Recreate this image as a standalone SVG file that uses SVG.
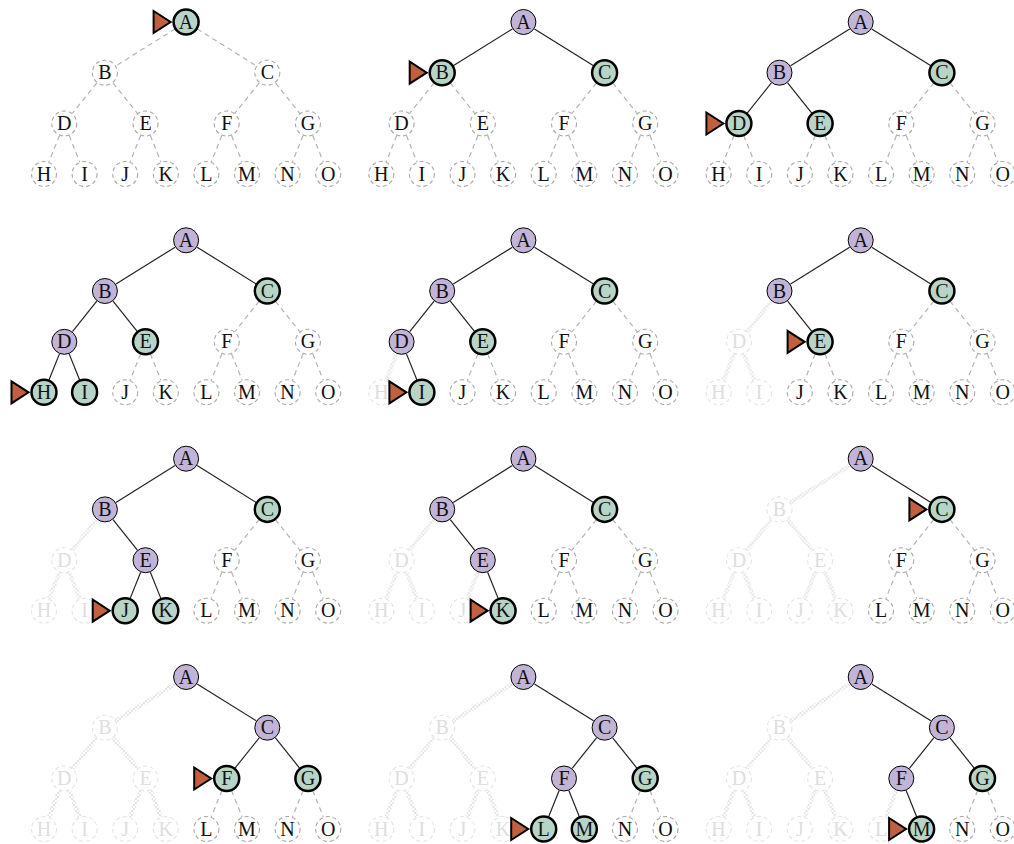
<svg xmlns="http://www.w3.org/2000/svg" width="1014" height="844" viewBox="0 0 1014 844">
<style>
.act{fill:#b7d4c6;stroke:#000;stroke-width:2.5}
.vis{fill:#c2b4d6;stroke:#000;stroke-width:1}
.un{fill:#fff;stroke:#a8a8a8;stroke-width:1.1;stroke-dasharray:4 3}
.pr{fill:#fff;stroke:#e4e4e4;stroke-width:1.1;stroke-dasharray:4 3}
.t{font-family:"Liberation Serif",serif;font-size:20px;text-anchor:middle;fill:#111}
.tp{font-family:"Liberation Serif",serif;font-size:20px;text-anchor:middle;fill:#dedede}
.s{stroke:#222;stroke-width:1.2;fill:none}
.d{stroke:#b3b3b3;stroke-width:1.2;stroke-dasharray:5 4;fill:none}
.x{stroke:url(#xs);stroke-width:4;fill:none}
.arr{fill:#c0603e;stroke:#000;stroke-width:2;stroke-linejoin:miter}
</style>
<defs>
<pattern id="xs" width="4" height="4" patternUnits="userSpaceOnUse">
<path d="M0,0L4,4M0,4L4,0" stroke="#e2e2e2" stroke-width="0.9"/>
</pattern>
</defs>
<rect width="1014" height="844" fill="#fff"/>

<!-- Panel 1 -->
<g id="panel1" transform="translate(0,0)">
<g id="p1-edges">
<line class="d" x1="175.07" y1="28.89" x2="115.93" y2="65.81"/>
<line class="d" x1="197.13" y1="28.89" x2="256.27" y2="65.81"/>
<line class="d" x1="96.78" y1="82.86" x2="72.42" y2="113.34"/>
<line class="d" x1="113.02" y1="82.86" x2="137.38" y2="113.34"/>
<line class="d" x1="259.18" y1="82.86" x2="234.82" y2="113.34"/>
<line class="d" x1="275.42" y1="82.86" x2="299.78" y2="113.34"/>
<line class="d" x1="59.45" y1="135.56" x2="48.85" y2="161.94"/>
<line class="d" x1="69.15" y1="135.56" x2="79.75" y2="161.94"/>
<line class="d" x1="140.65" y1="135.56" x2="130.05" y2="161.94"/>
<line class="d" x1="150.35" y1="135.56" x2="160.95" y2="161.94"/>
<line class="d" x1="221.85" y1="135.56" x2="211.25" y2="161.94"/>
<line class="d" x1="231.55" y1="135.56" x2="242.15" y2="161.94"/>
<line class="d" x1="303.05" y1="135.56" x2="292.45" y2="161.94"/>
<line class="d" x1="312.75" y1="135.56" x2="323.35" y2="161.94"/>
</g>
<g id="p1-A"><polygon class="arr" points="153.6,11 170.6,22 153.6,33"/><circle class="act" cx="186.1" cy="22" r="12.5"/><text class="t" x="186.1" y="28.7">A</text></g>
<g id="p1-B"><circle class="un" cx="104.9" cy="72.7" r="12.5"/><text class="t" x="104.9" y="79.4">B</text></g>
<g id="p1-C"><circle class="un" cx="267.3" cy="72.7" r="12.5"/><text class="t" x="267.3" y="79.4">C</text></g>
<g id="p1-D"><circle class="un" cx="64.3" cy="123.5" r="12.5"/><text class="t" x="64.3" y="130.2">D</text></g>
<g id="p1-E"><circle class="un" cx="145.5" cy="123.5" r="12.5"/><text class="t" x="145.5" y="130.2">E</text></g>
<g id="p1-F"><circle class="un" cx="226.7" cy="123.5" r="12.5"/><text class="t" x="226.7" y="130.2">F</text></g>
<g id="p1-G"><circle class="un" cx="307.9" cy="123.5" r="12.5"/><text class="t" x="307.9" y="130.2">G</text></g>
<g id="p1-H"><circle class="un" cx="44" cy="174" r="12.5"/><text class="t" x="44" y="180.7">H</text></g>
<g id="p1-I"><circle class="un" cx="84.6" cy="174" r="12.5"/><text class="t" x="84.6" y="180.7">I</text></g>
<g id="p1-J"><circle class="un" cx="125.2" cy="174" r="12.5"/><text class="t" x="125.2" y="180.7">J</text></g>
<g id="p1-K"><circle class="un" cx="165.8" cy="174" r="12.5"/><text class="t" x="165.8" y="180.7">K</text></g>
<g id="p1-L"><circle class="un" cx="206.4" cy="174" r="12.5"/><text class="t" x="206.4" y="180.7">L</text></g>
<g id="p1-M"><circle class="un" cx="247" cy="174" r="12.5"/><text class="t" x="247" y="180.7">M</text></g>
<g id="p1-N"><circle class="un" cx="287.6" cy="174" r="12.5"/><text class="t" x="287.6" y="180.7">N</text></g>
<g id="p1-O"><circle class="un" cx="328.2" cy="174" r="12.5"/><text class="t" x="328.2" y="180.7">O</text></g>
</g>

<!-- Panel 2 -->
<g id="panel2" transform="translate(337.3,0)">
<g id="p2-edges">
<line class="s" x1="175.07" y1="28.89" x2="115.93" y2="65.81"/>
<line class="s" x1="197.13" y1="28.89" x2="256.27" y2="65.81"/>
<line class="d" x1="96.78" y1="82.86" x2="72.42" y2="113.34"/>
<line class="d" x1="113.02" y1="82.86" x2="137.38" y2="113.34"/>
<line class="d" x1="259.18" y1="82.86" x2="234.82" y2="113.34"/>
<line class="d" x1="275.42" y1="82.86" x2="299.78" y2="113.34"/>
<line class="d" x1="59.45" y1="135.56" x2="48.85" y2="161.94"/>
<line class="d" x1="69.15" y1="135.56" x2="79.75" y2="161.94"/>
<line class="d" x1="140.65" y1="135.56" x2="130.05" y2="161.94"/>
<line class="d" x1="150.35" y1="135.56" x2="160.95" y2="161.94"/>
<line class="d" x1="221.85" y1="135.56" x2="211.25" y2="161.94"/>
<line class="d" x1="231.55" y1="135.56" x2="242.15" y2="161.94"/>
<line class="d" x1="303.05" y1="135.56" x2="292.45" y2="161.94"/>
<line class="d" x1="312.75" y1="135.56" x2="323.35" y2="161.94"/>
</g>
<g id="p2-A"><circle class="vis" cx="186.1" cy="22" r="12.5"/><text class="t" x="186.1" y="28.7">A</text></g>
<g id="p2-B"><polygon class="arr" points="72.4,61.7 89.4,72.7 72.4,83.7"/><circle class="act" cx="104.9" cy="72.7" r="12.5"/><text class="t" x="104.9" y="79.4">B</text></g>
<g id="p2-C"><circle class="act" cx="267.3" cy="72.7" r="12.5"/><text class="t" x="267.3" y="79.4">C</text></g>
<g id="p2-D"><circle class="un" cx="64.3" cy="123.5" r="12.5"/><text class="t" x="64.3" y="130.2">D</text></g>
<g id="p2-E"><circle class="un" cx="145.5" cy="123.5" r="12.5"/><text class="t" x="145.5" y="130.2">E</text></g>
<g id="p2-F"><circle class="un" cx="226.7" cy="123.5" r="12.5"/><text class="t" x="226.7" y="130.2">F</text></g>
<g id="p2-G"><circle class="un" cx="307.9" cy="123.5" r="12.5"/><text class="t" x="307.9" y="130.2">G</text></g>
<g id="p2-H"><circle class="un" cx="44" cy="174" r="12.5"/><text class="t" x="44" y="180.7">H</text></g>
<g id="p2-I"><circle class="un" cx="84.6" cy="174" r="12.5"/><text class="t" x="84.6" y="180.7">I</text></g>
<g id="p2-J"><circle class="un" cx="125.2" cy="174" r="12.5"/><text class="t" x="125.2" y="180.7">J</text></g>
<g id="p2-K"><circle class="un" cx="165.8" cy="174" r="12.5"/><text class="t" x="165.8" y="180.7">K</text></g>
<g id="p2-L"><circle class="un" cx="206.4" cy="174" r="12.5"/><text class="t" x="206.4" y="180.7">L</text></g>
<g id="p2-M"><circle class="un" cx="247" cy="174" r="12.5"/><text class="t" x="247" y="180.7">M</text></g>
<g id="p2-N"><circle class="un" cx="287.6" cy="174" r="12.5"/><text class="t" x="287.6" y="180.7">N</text></g>
<g id="p2-O"><circle class="un" cx="328.2" cy="174" r="12.5"/><text class="t" x="328.2" y="180.7">O</text></g>
</g>

<!-- Panel 3 -->
<g id="panel3" transform="translate(674.6,0)">
<g id="p3-edges">
<line class="s" x1="175.07" y1="28.89" x2="115.93" y2="65.81"/>
<line class="s" x1="197.13" y1="28.89" x2="256.27" y2="65.81"/>
<line class="s" x1="96.78" y1="82.86" x2="72.42" y2="113.34"/>
<line class="s" x1="113.02" y1="82.86" x2="137.38" y2="113.34"/>
<line class="d" x1="259.18" y1="82.86" x2="234.82" y2="113.34"/>
<line class="d" x1="275.42" y1="82.86" x2="299.78" y2="113.34"/>
<line class="d" x1="59.45" y1="135.56" x2="48.85" y2="161.94"/>
<line class="d" x1="69.15" y1="135.56" x2="79.75" y2="161.94"/>
<line class="d" x1="140.65" y1="135.56" x2="130.05" y2="161.94"/>
<line class="d" x1="150.35" y1="135.56" x2="160.95" y2="161.94"/>
<line class="d" x1="221.85" y1="135.56" x2="211.25" y2="161.94"/>
<line class="d" x1="231.55" y1="135.56" x2="242.15" y2="161.94"/>
<line class="d" x1="303.05" y1="135.56" x2="292.45" y2="161.94"/>
<line class="d" x1="312.75" y1="135.56" x2="323.35" y2="161.94"/>
</g>
<g id="p3-A"><circle class="vis" cx="186.1" cy="22" r="12.5"/><text class="t" x="186.1" y="28.7">A</text></g>
<g id="p3-B"><circle class="vis" cx="104.9" cy="72.7" r="12.5"/><text class="t" x="104.9" y="79.4">B</text></g>
<g id="p3-C"><circle class="act" cx="267.3" cy="72.7" r="12.5"/><text class="t" x="267.3" y="79.4">C</text></g>
<g id="p3-D"><polygon class="arr" points="31.8,112.5 48.8,123.5 31.8,134.5"/><circle class="act" cx="64.3" cy="123.5" r="12.5"/><text class="t" x="64.3" y="130.2">D</text></g>
<g id="p3-E"><circle class="act" cx="145.5" cy="123.5" r="12.5"/><text class="t" x="145.5" y="130.2">E</text></g>
<g id="p3-F"><circle class="un" cx="226.7" cy="123.5" r="12.5"/><text class="t" x="226.7" y="130.2">F</text></g>
<g id="p3-G"><circle class="un" cx="307.9" cy="123.5" r="12.5"/><text class="t" x="307.9" y="130.2">G</text></g>
<g id="p3-H"><circle class="un" cx="44" cy="174" r="12.5"/><text class="t" x="44" y="180.7">H</text></g>
<g id="p3-I"><circle class="un" cx="84.6" cy="174" r="12.5"/><text class="t" x="84.6" y="180.7">I</text></g>
<g id="p3-J"><circle class="un" cx="125.2" cy="174" r="12.5"/><text class="t" x="125.2" y="180.7">J</text></g>
<g id="p3-K"><circle class="un" cx="165.8" cy="174" r="12.5"/><text class="t" x="165.8" y="180.7">K</text></g>
<g id="p3-L"><circle class="un" cx="206.4" cy="174" r="12.5"/><text class="t" x="206.4" y="180.7">L</text></g>
<g id="p3-M"><circle class="un" cx="247" cy="174" r="12.5"/><text class="t" x="247" y="180.7">M</text></g>
<g id="p3-N"><circle class="un" cx="287.6" cy="174" r="12.5"/><text class="t" x="287.6" y="180.7">N</text></g>
<g id="p3-O"><circle class="un" cx="328.2" cy="174" r="12.5"/><text class="t" x="328.2" y="180.7">O</text></g>
</g>

<!-- Panel 4 -->
<g id="panel4" transform="translate(0,218.3)">
<g id="p4-edges">
<line class="s" x1="175.07" y1="28.89" x2="115.93" y2="65.81"/>
<line class="s" x1="197.13" y1="28.89" x2="256.27" y2="65.81"/>
<line class="s" x1="96.78" y1="82.86" x2="72.42" y2="113.34"/>
<line class="s" x1="113.02" y1="82.86" x2="137.38" y2="113.34"/>
<line class="d" x1="259.18" y1="82.86" x2="234.82" y2="113.34"/>
<line class="d" x1="275.42" y1="82.86" x2="299.78" y2="113.34"/>
<line class="s" x1="59.45" y1="135.56" x2="48.85" y2="161.94"/>
<line class="s" x1="69.15" y1="135.56" x2="79.75" y2="161.94"/>
<line class="d" x1="140.65" y1="135.56" x2="130.05" y2="161.94"/>
<line class="d" x1="150.35" y1="135.56" x2="160.95" y2="161.94"/>
<line class="d" x1="221.85" y1="135.56" x2="211.25" y2="161.94"/>
<line class="d" x1="231.55" y1="135.56" x2="242.15" y2="161.94"/>
<line class="d" x1="303.05" y1="135.56" x2="292.45" y2="161.94"/>
<line class="d" x1="312.75" y1="135.56" x2="323.35" y2="161.94"/>
</g>
<g id="p4-A"><circle class="vis" cx="186.1" cy="22" r="12.5"/><text class="t" x="186.1" y="28.7">A</text></g>
<g id="p4-B"><circle class="vis" cx="104.9" cy="72.7" r="12.5"/><text class="t" x="104.9" y="79.4">B</text></g>
<g id="p4-C"><circle class="act" cx="267.3" cy="72.7" r="12.5"/><text class="t" x="267.3" y="79.4">C</text></g>
<g id="p4-D"><circle class="vis" cx="64.3" cy="123.5" r="12.5"/><text class="t" x="64.3" y="130.2">D</text></g>
<g id="p4-E"><circle class="act" cx="145.5" cy="123.5" r="12.5"/><text class="t" x="145.5" y="130.2">E</text></g>
<g id="p4-F"><circle class="un" cx="226.7" cy="123.5" r="12.5"/><text class="t" x="226.7" y="130.2">F</text></g>
<g id="p4-G"><circle class="un" cx="307.9" cy="123.5" r="12.5"/><text class="t" x="307.9" y="130.2">G</text></g>
<g id="p4-H"><polygon class="arr" points="11.5,163 28.5,174 11.5,185"/><circle class="act" cx="44" cy="174" r="12.5"/><text class="t" x="44" y="180.7">H</text></g>
<g id="p4-I"><circle class="act" cx="84.6" cy="174" r="12.5"/><text class="t" x="84.6" y="180.7">I</text></g>
<g id="p4-J"><circle class="un" cx="125.2" cy="174" r="12.5"/><text class="t" x="125.2" y="180.7">J</text></g>
<g id="p4-K"><circle class="un" cx="165.8" cy="174" r="12.5"/><text class="t" x="165.8" y="180.7">K</text></g>
<g id="p4-L"><circle class="un" cx="206.4" cy="174" r="12.5"/><text class="t" x="206.4" y="180.7">L</text></g>
<g id="p4-M"><circle class="un" cx="247" cy="174" r="12.5"/><text class="t" x="247" y="180.7">M</text></g>
<g id="p4-N"><circle class="un" cx="287.6" cy="174" r="12.5"/><text class="t" x="287.6" y="180.7">N</text></g>
<g id="p4-O"><circle class="un" cx="328.2" cy="174" r="12.5"/><text class="t" x="328.2" y="180.7">O</text></g>
</g>

<!-- Panel 5 -->
<g id="panel5" transform="translate(337.3,218.3)">
<g id="p5-edges">
<line class="s" x1="175.07" y1="28.89" x2="115.93" y2="65.81"/>
<line class="s" x1="197.13" y1="28.89" x2="256.27" y2="65.81"/>
<line class="s" x1="96.78" y1="82.86" x2="72.42" y2="113.34"/>
<line class="s" x1="113.02" y1="82.86" x2="137.38" y2="113.34"/>
<line class="d" x1="259.18" y1="82.86" x2="234.82" y2="113.34"/>
<line class="d" x1="275.42" y1="82.86" x2="299.78" y2="113.34"/>
<line class="x" x1="59.45" y1="135.56" x2="48.85" y2="161.94"/>
<line class="s" x1="69.15" y1="135.56" x2="79.75" y2="161.94"/>
<line class="d" x1="140.65" y1="135.56" x2="130.05" y2="161.94"/>
<line class="d" x1="150.35" y1="135.56" x2="160.95" y2="161.94"/>
<line class="d" x1="221.85" y1="135.56" x2="211.25" y2="161.94"/>
<line class="d" x1="231.55" y1="135.56" x2="242.15" y2="161.94"/>
<line class="d" x1="303.05" y1="135.56" x2="292.45" y2="161.94"/>
<line class="d" x1="312.75" y1="135.56" x2="323.35" y2="161.94"/>
</g>
<g id="p5-A"><circle class="vis" cx="186.1" cy="22" r="12.5"/><text class="t" x="186.1" y="28.7">A</text></g>
<g id="p5-B"><circle class="vis" cx="104.9" cy="72.7" r="12.5"/><text class="t" x="104.9" y="79.4">B</text></g>
<g id="p5-C"><circle class="act" cx="267.3" cy="72.7" r="12.5"/><text class="t" x="267.3" y="79.4">C</text></g>
<g id="p5-D"><circle class="vis" cx="64.3" cy="123.5" r="12.5"/><text class="t" x="64.3" y="130.2">D</text></g>
<g id="p5-E"><circle class="act" cx="145.5" cy="123.5" r="12.5"/><text class="t" x="145.5" y="130.2">E</text></g>
<g id="p5-F"><circle class="un" cx="226.7" cy="123.5" r="12.5"/><text class="t" x="226.7" y="130.2">F</text></g>
<g id="p5-G"><circle class="un" cx="307.9" cy="123.5" r="12.5"/><text class="t" x="307.9" y="130.2">G</text></g>
<g id="p5-H"><circle class="pr" cx="44" cy="174" r="12.5"/><text class="tp" x="44" y="180.7">H</text></g>
<g id="p5-I"><polygon class="arr" points="52.1,163 69.1,174 52.1,185"/><circle class="act" cx="84.6" cy="174" r="12.5"/><text class="t" x="84.6" y="180.7">I</text></g>
<g id="p5-J"><circle class="un" cx="125.2" cy="174" r="12.5"/><text class="t" x="125.2" y="180.7">J</text></g>
<g id="p5-K"><circle class="un" cx="165.8" cy="174" r="12.5"/><text class="t" x="165.8" y="180.7">K</text></g>
<g id="p5-L"><circle class="un" cx="206.4" cy="174" r="12.5"/><text class="t" x="206.4" y="180.7">L</text></g>
<g id="p5-M"><circle class="un" cx="247" cy="174" r="12.5"/><text class="t" x="247" y="180.7">M</text></g>
<g id="p5-N"><circle class="un" cx="287.6" cy="174" r="12.5"/><text class="t" x="287.6" y="180.7">N</text></g>
<g id="p5-O"><circle class="un" cx="328.2" cy="174" r="12.5"/><text class="t" x="328.2" y="180.7">O</text></g>
</g>

<!-- Panel 6 -->
<g id="panel6" transform="translate(674.6,218.3)">
<g id="p6-edges">
<line class="s" x1="175.07" y1="28.89" x2="115.93" y2="65.81"/>
<line class="s" x1="197.13" y1="28.89" x2="256.27" y2="65.81"/>
<line class="x" x1="96.78" y1="82.86" x2="72.42" y2="113.34"/>
<line class="s" x1="113.02" y1="82.86" x2="137.38" y2="113.34"/>
<line class="d" x1="259.18" y1="82.86" x2="234.82" y2="113.34"/>
<line class="d" x1="275.42" y1="82.86" x2="299.78" y2="113.34"/>
<line class="x" x1="59.45" y1="135.56" x2="48.85" y2="161.94"/>
<line class="x" x1="69.15" y1="135.56" x2="79.75" y2="161.94"/>
<line class="d" x1="140.65" y1="135.56" x2="130.05" y2="161.94"/>
<line class="d" x1="150.35" y1="135.56" x2="160.95" y2="161.94"/>
<line class="d" x1="221.85" y1="135.56" x2="211.25" y2="161.94"/>
<line class="d" x1="231.55" y1="135.56" x2="242.15" y2="161.94"/>
<line class="d" x1="303.05" y1="135.56" x2="292.45" y2="161.94"/>
<line class="d" x1="312.75" y1="135.56" x2="323.35" y2="161.94"/>
</g>
<g id="p6-A"><circle class="vis" cx="186.1" cy="22" r="12.5"/><text class="t" x="186.1" y="28.7">A</text></g>
<g id="p6-B"><circle class="vis" cx="104.9" cy="72.7" r="12.5"/><text class="t" x="104.9" y="79.4">B</text></g>
<g id="p6-C"><circle class="act" cx="267.3" cy="72.7" r="12.5"/><text class="t" x="267.3" y="79.4">C</text></g>
<g id="p6-D"><circle class="pr" cx="64.3" cy="123.5" r="12.5"/><text class="tp" x="64.3" y="130.2">D</text></g>
<g id="p6-E"><polygon class="arr" points="113,112.5 130,123.5 113,134.5"/><circle class="act" cx="145.5" cy="123.5" r="12.5"/><text class="t" x="145.5" y="130.2">E</text></g>
<g id="p6-F"><circle class="un" cx="226.7" cy="123.5" r="12.5"/><text class="t" x="226.7" y="130.2">F</text></g>
<g id="p6-G"><circle class="un" cx="307.9" cy="123.5" r="12.5"/><text class="t" x="307.9" y="130.2">G</text></g>
<g id="p6-H"><circle class="pr" cx="44" cy="174" r="12.5"/><text class="tp" x="44" y="180.7">H</text></g>
<g id="p6-I"><circle class="pr" cx="84.6" cy="174" r="12.5"/><text class="tp" x="84.6" y="180.7">I</text></g>
<g id="p6-J"><circle class="un" cx="125.2" cy="174" r="12.5"/><text class="t" x="125.2" y="180.7">J</text></g>
<g id="p6-K"><circle class="un" cx="165.8" cy="174" r="12.5"/><text class="t" x="165.8" y="180.7">K</text></g>
<g id="p6-L"><circle class="un" cx="206.4" cy="174" r="12.5"/><text class="t" x="206.4" y="180.7">L</text></g>
<g id="p6-M"><circle class="un" cx="247" cy="174" r="12.5"/><text class="t" x="247" y="180.7">M</text></g>
<g id="p6-N"><circle class="un" cx="287.6" cy="174" r="12.5"/><text class="t" x="287.6" y="180.7">N</text></g>
<g id="p6-O"><circle class="un" cx="328.2" cy="174" r="12.5"/><text class="t" x="328.2" y="180.7">O</text></g>
</g>

<!-- Panel 7 -->
<g id="panel7" transform="translate(0,436.7)">
<g id="p7-edges">
<line class="s" x1="175.07" y1="28.89" x2="115.93" y2="65.81"/>
<line class="s" x1="197.13" y1="28.89" x2="256.27" y2="65.81"/>
<line class="x" x1="96.78" y1="82.86" x2="72.42" y2="113.34"/>
<line class="s" x1="113.02" y1="82.86" x2="137.38" y2="113.34"/>
<line class="d" x1="259.18" y1="82.86" x2="234.82" y2="113.34"/>
<line class="d" x1="275.42" y1="82.86" x2="299.78" y2="113.34"/>
<line class="x" x1="59.45" y1="135.56" x2="48.85" y2="161.94"/>
<line class="x" x1="69.15" y1="135.56" x2="79.75" y2="161.94"/>
<line class="s" x1="140.65" y1="135.56" x2="130.05" y2="161.94"/>
<line class="s" x1="150.35" y1="135.56" x2="160.95" y2="161.94"/>
<line class="d" x1="221.85" y1="135.56" x2="211.25" y2="161.94"/>
<line class="d" x1="231.55" y1="135.56" x2="242.15" y2="161.94"/>
<line class="d" x1="303.05" y1="135.56" x2="292.45" y2="161.94"/>
<line class="d" x1="312.75" y1="135.56" x2="323.35" y2="161.94"/>
</g>
<g id="p7-A"><circle class="vis" cx="186.1" cy="22" r="12.5"/><text class="t" x="186.1" y="28.7">A</text></g>
<g id="p7-B"><circle class="vis" cx="104.9" cy="72.7" r="12.5"/><text class="t" x="104.9" y="79.4">B</text></g>
<g id="p7-C"><circle class="act" cx="267.3" cy="72.7" r="12.5"/><text class="t" x="267.3" y="79.4">C</text></g>
<g id="p7-D"><circle class="pr" cx="64.3" cy="123.5" r="12.5"/><text class="tp" x="64.3" y="130.2">D</text></g>
<g id="p7-E"><circle class="vis" cx="145.5" cy="123.5" r="12.5"/><text class="t" x="145.5" y="130.2">E</text></g>
<g id="p7-F"><circle class="un" cx="226.7" cy="123.5" r="12.5"/><text class="t" x="226.7" y="130.2">F</text></g>
<g id="p7-G"><circle class="un" cx="307.9" cy="123.5" r="12.5"/><text class="t" x="307.9" y="130.2">G</text></g>
<g id="p7-H"><circle class="pr" cx="44" cy="174" r="12.5"/><text class="tp" x="44" y="180.7">H</text></g>
<g id="p7-I"><circle class="pr" cx="84.6" cy="174" r="12.5"/><text class="tp" x="84.6" y="180.7">I</text></g>
<g id="p7-J"><polygon class="arr" points="92.7,163 109.7,174 92.7,185"/><circle class="act" cx="125.2" cy="174" r="12.5"/><text class="t" x="125.2" y="180.7">J</text></g>
<g id="p7-K"><circle class="act" cx="165.8" cy="174" r="12.5"/><text class="t" x="165.8" y="180.7">K</text></g>
<g id="p7-L"><circle class="un" cx="206.4" cy="174" r="12.5"/><text class="t" x="206.4" y="180.7">L</text></g>
<g id="p7-M"><circle class="un" cx="247" cy="174" r="12.5"/><text class="t" x="247" y="180.7">M</text></g>
<g id="p7-N"><circle class="un" cx="287.6" cy="174" r="12.5"/><text class="t" x="287.6" y="180.7">N</text></g>
<g id="p7-O"><circle class="un" cx="328.2" cy="174" r="12.5"/><text class="t" x="328.2" y="180.7">O</text></g>
</g>

<!-- Panel 8 -->
<g id="panel8" transform="translate(337.3,436.7)">
<g id="p8-edges">
<line class="s" x1="175.07" y1="28.89" x2="115.93" y2="65.81"/>
<line class="s" x1="197.13" y1="28.89" x2="256.27" y2="65.81"/>
<line class="x" x1="96.78" y1="82.86" x2="72.42" y2="113.34"/>
<line class="s" x1="113.02" y1="82.86" x2="137.38" y2="113.34"/>
<line class="d" x1="259.18" y1="82.86" x2="234.82" y2="113.34"/>
<line class="d" x1="275.42" y1="82.86" x2="299.78" y2="113.34"/>
<line class="x" x1="59.45" y1="135.56" x2="48.85" y2="161.94"/>
<line class="x" x1="69.15" y1="135.56" x2="79.75" y2="161.94"/>
<line class="x" x1="140.65" y1="135.56" x2="130.05" y2="161.94"/>
<line class="s" x1="150.35" y1="135.56" x2="160.95" y2="161.94"/>
<line class="d" x1="221.85" y1="135.56" x2="211.25" y2="161.94"/>
<line class="d" x1="231.55" y1="135.56" x2="242.15" y2="161.94"/>
<line class="d" x1="303.05" y1="135.56" x2="292.45" y2="161.94"/>
<line class="d" x1="312.75" y1="135.56" x2="323.35" y2="161.94"/>
</g>
<g id="p8-A"><circle class="vis" cx="186.1" cy="22" r="12.5"/><text class="t" x="186.1" y="28.7">A</text></g>
<g id="p8-B"><circle class="vis" cx="104.9" cy="72.7" r="12.5"/><text class="t" x="104.9" y="79.4">B</text></g>
<g id="p8-C"><circle class="act" cx="267.3" cy="72.7" r="12.5"/><text class="t" x="267.3" y="79.4">C</text></g>
<g id="p8-D"><circle class="pr" cx="64.3" cy="123.5" r="12.5"/><text class="tp" x="64.3" y="130.2">D</text></g>
<g id="p8-E"><circle class="vis" cx="145.5" cy="123.5" r="12.5"/><text class="t" x="145.5" y="130.2">E</text></g>
<g id="p8-F"><circle class="un" cx="226.7" cy="123.5" r="12.5"/><text class="t" x="226.7" y="130.2">F</text></g>
<g id="p8-G"><circle class="un" cx="307.9" cy="123.5" r="12.5"/><text class="t" x="307.9" y="130.2">G</text></g>
<g id="p8-H"><circle class="pr" cx="44" cy="174" r="12.5"/><text class="tp" x="44" y="180.7">H</text></g>
<g id="p8-I"><circle class="pr" cx="84.6" cy="174" r="12.5"/><text class="tp" x="84.6" y="180.7">I</text></g>
<g id="p8-J"><circle class="pr" cx="125.2" cy="174" r="12.5"/><text class="tp" x="125.2" y="180.7">J</text></g>
<g id="p8-K"><polygon class="arr" points="133.3,163 150.3,174 133.3,185"/><circle class="act" cx="165.8" cy="174" r="12.5"/><text class="t" x="165.8" y="180.7">K</text></g>
<g id="p8-L"><circle class="un" cx="206.4" cy="174" r="12.5"/><text class="t" x="206.4" y="180.7">L</text></g>
<g id="p8-M"><circle class="un" cx="247" cy="174" r="12.5"/><text class="t" x="247" y="180.7">M</text></g>
<g id="p8-N"><circle class="un" cx="287.6" cy="174" r="12.5"/><text class="t" x="287.6" y="180.7">N</text></g>
<g id="p8-O"><circle class="un" cx="328.2" cy="174" r="12.5"/><text class="t" x="328.2" y="180.7">O</text></g>
</g>

<!-- Panel 9 -->
<g id="panel9" transform="translate(674.6,436.7)">
<g id="p9-edges">
<line class="x" x1="175.07" y1="28.89" x2="115.93" y2="65.81"/>
<line class="s" x1="197.13" y1="28.89" x2="256.27" y2="65.81"/>
<line class="x" x1="96.78" y1="82.86" x2="72.42" y2="113.34"/>
<line class="x" x1="113.02" y1="82.86" x2="137.38" y2="113.34"/>
<line class="d" x1="259.18" y1="82.86" x2="234.82" y2="113.34"/>
<line class="d" x1="275.42" y1="82.86" x2="299.78" y2="113.34"/>
<line class="x" x1="59.45" y1="135.56" x2="48.85" y2="161.94"/>
<line class="x" x1="69.15" y1="135.56" x2="79.75" y2="161.94"/>
<line class="x" x1="140.65" y1="135.56" x2="130.05" y2="161.94"/>
<line class="x" x1="150.35" y1="135.56" x2="160.95" y2="161.94"/>
<line class="d" x1="221.85" y1="135.56" x2="211.25" y2="161.94"/>
<line class="d" x1="231.55" y1="135.56" x2="242.15" y2="161.94"/>
<line class="d" x1="303.05" y1="135.56" x2="292.45" y2="161.94"/>
<line class="d" x1="312.75" y1="135.56" x2="323.35" y2="161.94"/>
</g>
<g id="p9-A"><circle class="vis" cx="186.1" cy="22" r="12.5"/><text class="t" x="186.1" y="28.7">A</text></g>
<g id="p9-B"><circle class="pr" cx="104.9" cy="72.7" r="12.5"/><text class="tp" x="104.9" y="79.4">B</text></g>
<g id="p9-C"><polygon class="arr" points="234.8,61.7 251.8,72.7 234.8,83.7"/><circle class="act" cx="267.3" cy="72.7" r="12.5"/><text class="t" x="267.3" y="79.4">C</text></g>
<g id="p9-D"><circle class="pr" cx="64.3" cy="123.5" r="12.5"/><text class="tp" x="64.3" y="130.2">D</text></g>
<g id="p9-E"><circle class="pr" cx="145.5" cy="123.5" r="12.5"/><text class="tp" x="145.5" y="130.2">E</text></g>
<g id="p9-F"><circle class="un" cx="226.7" cy="123.5" r="12.5"/><text class="t" x="226.7" y="130.2">F</text></g>
<g id="p9-G"><circle class="un" cx="307.9" cy="123.5" r="12.5"/><text class="t" x="307.9" y="130.2">G</text></g>
<g id="p9-H"><circle class="pr" cx="44" cy="174" r="12.5"/><text class="tp" x="44" y="180.7">H</text></g>
<g id="p9-I"><circle class="pr" cx="84.6" cy="174" r="12.5"/><text class="tp" x="84.6" y="180.7">I</text></g>
<g id="p9-J"><circle class="pr" cx="125.2" cy="174" r="12.5"/><text class="tp" x="125.2" y="180.7">J</text></g>
<g id="p9-K"><circle class="pr" cx="165.8" cy="174" r="12.5"/><text class="tp" x="165.8" y="180.7">K</text></g>
<g id="p9-L"><circle class="un" cx="206.4" cy="174" r="12.5"/><text class="t" x="206.4" y="180.7">L</text></g>
<g id="p9-M"><circle class="un" cx="247" cy="174" r="12.5"/><text class="t" x="247" y="180.7">M</text></g>
<g id="p9-N"><circle class="un" cx="287.6" cy="174" r="12.5"/><text class="t" x="287.6" y="180.7">N</text></g>
<g id="p9-O"><circle class="un" cx="328.2" cy="174" r="12.5"/><text class="t" x="328.2" y="180.7">O</text></g>
</g>

<!-- Panel 10 -->
<g id="panel10" transform="translate(0,655)">
<g id="p10-edges">
<line class="x" x1="175.07" y1="28.89" x2="115.93" y2="65.81"/>
<line class="s" x1="197.13" y1="28.89" x2="256.27" y2="65.81"/>
<line class="x" x1="96.78" y1="82.86" x2="72.42" y2="113.34"/>
<line class="x" x1="113.02" y1="82.86" x2="137.38" y2="113.34"/>
<line class="s" x1="259.18" y1="82.86" x2="234.82" y2="113.34"/>
<line class="s" x1="275.42" y1="82.86" x2="299.78" y2="113.34"/>
<line class="x" x1="59.45" y1="135.56" x2="48.85" y2="161.94"/>
<line class="x" x1="69.15" y1="135.56" x2="79.75" y2="161.94"/>
<line class="x" x1="140.65" y1="135.56" x2="130.05" y2="161.94"/>
<line class="x" x1="150.35" y1="135.56" x2="160.95" y2="161.94"/>
<line class="d" x1="221.85" y1="135.56" x2="211.25" y2="161.94"/>
<line class="d" x1="231.55" y1="135.56" x2="242.15" y2="161.94"/>
<line class="d" x1="303.05" y1="135.56" x2="292.45" y2="161.94"/>
<line class="d" x1="312.75" y1="135.56" x2="323.35" y2="161.94"/>
</g>
<g id="p10-A"><circle class="vis" cx="186.1" cy="22" r="12.5"/><text class="t" x="186.1" y="28.7">A</text></g>
<g id="p10-B"><circle class="pr" cx="104.9" cy="72.7" r="12.5"/><text class="tp" x="104.9" y="79.4">B</text></g>
<g id="p10-C"><circle class="vis" cx="267.3" cy="72.7" r="12.5"/><text class="t" x="267.3" y="79.4">C</text></g>
<g id="p10-D"><circle class="pr" cx="64.3" cy="123.5" r="12.5"/><text class="tp" x="64.3" y="130.2">D</text></g>
<g id="p10-E"><circle class="pr" cx="145.5" cy="123.5" r="12.5"/><text class="tp" x="145.5" y="130.2">E</text></g>
<g id="p10-F"><polygon class="arr" points="194.2,112.5 211.2,123.5 194.2,134.5"/><circle class="act" cx="226.7" cy="123.5" r="12.5"/><text class="t" x="226.7" y="130.2">F</text></g>
<g id="p10-G"><circle class="act" cx="307.9" cy="123.5" r="12.5"/><text class="t" x="307.9" y="130.2">G</text></g>
<g id="p10-H"><circle class="pr" cx="44" cy="174" r="12.5"/><text class="tp" x="44" y="180.7">H</text></g>
<g id="p10-I"><circle class="pr" cx="84.6" cy="174" r="12.5"/><text class="tp" x="84.6" y="180.7">I</text></g>
<g id="p10-J"><circle class="pr" cx="125.2" cy="174" r="12.5"/><text class="tp" x="125.2" y="180.7">J</text></g>
<g id="p10-K"><circle class="pr" cx="165.8" cy="174" r="12.5"/><text class="tp" x="165.8" y="180.7">K</text></g>
<g id="p10-L"><circle class="un" cx="206.4" cy="174" r="12.5"/><text class="t" x="206.4" y="180.7">L</text></g>
<g id="p10-M"><circle class="un" cx="247" cy="174" r="12.5"/><text class="t" x="247" y="180.7">M</text></g>
<g id="p10-N"><circle class="un" cx="287.6" cy="174" r="12.5"/><text class="t" x="287.6" y="180.7">N</text></g>
<g id="p10-O"><circle class="un" cx="328.2" cy="174" r="12.5"/><text class="t" x="328.2" y="180.7">O</text></g>
</g>

<!-- Panel 11 -->
<g id="panel11" transform="translate(337.3,655)">
<g id="p11-edges">
<line class="x" x1="175.07" y1="28.89" x2="115.93" y2="65.81"/>
<line class="s" x1="197.13" y1="28.89" x2="256.27" y2="65.81"/>
<line class="x" x1="96.78" y1="82.86" x2="72.42" y2="113.34"/>
<line class="x" x1="113.02" y1="82.86" x2="137.38" y2="113.34"/>
<line class="s" x1="259.18" y1="82.86" x2="234.82" y2="113.34"/>
<line class="s" x1="275.42" y1="82.86" x2="299.78" y2="113.34"/>
<line class="x" x1="59.45" y1="135.56" x2="48.85" y2="161.94"/>
<line class="x" x1="69.15" y1="135.56" x2="79.75" y2="161.94"/>
<line class="x" x1="140.65" y1="135.56" x2="130.05" y2="161.94"/>
<line class="x" x1="150.35" y1="135.56" x2="160.95" y2="161.94"/>
<line class="s" x1="221.85" y1="135.56" x2="211.25" y2="161.94"/>
<line class="s" x1="231.55" y1="135.56" x2="242.15" y2="161.94"/>
<line class="d" x1="303.05" y1="135.56" x2="292.45" y2="161.94"/>
<line class="d" x1="312.75" y1="135.56" x2="323.35" y2="161.94"/>
</g>
<g id="p11-A"><circle class="vis" cx="186.1" cy="22" r="12.5"/><text class="t" x="186.1" y="28.7">A</text></g>
<g id="p11-B"><circle class="pr" cx="104.9" cy="72.7" r="12.5"/><text class="tp" x="104.9" y="79.4">B</text></g>
<g id="p11-C"><circle class="vis" cx="267.3" cy="72.7" r="12.5"/><text class="t" x="267.3" y="79.4">C</text></g>
<g id="p11-D"><circle class="pr" cx="64.3" cy="123.5" r="12.5"/><text class="tp" x="64.3" y="130.2">D</text></g>
<g id="p11-E"><circle class="pr" cx="145.5" cy="123.5" r="12.5"/><text class="tp" x="145.5" y="130.2">E</text></g>
<g id="p11-F"><circle class="vis" cx="226.7" cy="123.5" r="12.5"/><text class="t" x="226.7" y="130.2">F</text></g>
<g id="p11-G"><circle class="act" cx="307.9" cy="123.5" r="12.5"/><text class="t" x="307.9" y="130.2">G</text></g>
<g id="p11-H"><circle class="pr" cx="44" cy="174" r="12.5"/><text class="tp" x="44" y="180.7">H</text></g>
<g id="p11-I"><circle class="pr" cx="84.6" cy="174" r="12.5"/><text class="tp" x="84.6" y="180.7">I</text></g>
<g id="p11-J"><circle class="pr" cx="125.2" cy="174" r="12.5"/><text class="tp" x="125.2" y="180.7">J</text></g>
<g id="p11-K"><circle class="pr" cx="165.8" cy="174" r="12.5"/><text class="tp" x="165.8" y="180.7">K</text></g>
<g id="p11-L"><polygon class="arr" points="173.9,163 190.9,174 173.9,185"/><circle class="act" cx="206.4" cy="174" r="12.5"/><text class="t" x="206.4" y="180.7">L</text></g>
<g id="p11-M"><circle class="act" cx="247" cy="174" r="12.5"/><text class="t" x="247" y="180.7">M</text></g>
<g id="p11-N"><circle class="un" cx="287.6" cy="174" r="12.5"/><text class="t" x="287.6" y="180.7">N</text></g>
<g id="p11-O"><circle class="un" cx="328.2" cy="174" r="12.5"/><text class="t" x="328.2" y="180.7">O</text></g>
</g>

<!-- Panel 12 -->
<g id="panel12" transform="translate(674.6,655)">
<g id="p12-edges">
<line class="x" x1="175.07" y1="28.89" x2="115.93" y2="65.81"/>
<line class="s" x1="197.13" y1="28.89" x2="256.27" y2="65.81"/>
<line class="x" x1="96.78" y1="82.86" x2="72.42" y2="113.34"/>
<line class="x" x1="113.02" y1="82.86" x2="137.38" y2="113.34"/>
<line class="s" x1="259.18" y1="82.86" x2="234.82" y2="113.34"/>
<line class="s" x1="275.42" y1="82.86" x2="299.78" y2="113.34"/>
<line class="x" x1="59.45" y1="135.56" x2="48.85" y2="161.94"/>
<line class="x" x1="69.15" y1="135.56" x2="79.75" y2="161.94"/>
<line class="x" x1="140.65" y1="135.56" x2="130.05" y2="161.94"/>
<line class="x" x1="150.35" y1="135.56" x2="160.95" y2="161.94"/>
<line class="x" x1="221.85" y1="135.56" x2="211.25" y2="161.94"/>
<line class="s" x1="231.55" y1="135.56" x2="242.15" y2="161.94"/>
<line class="d" x1="303.05" y1="135.56" x2="292.45" y2="161.94"/>
<line class="d" x1="312.75" y1="135.56" x2="323.35" y2="161.94"/>
</g>
<g id="p12-A"><circle class="vis" cx="186.1" cy="22" r="12.5"/><text class="t" x="186.1" y="28.7">A</text></g>
<g id="p12-B"><circle class="pr" cx="104.9" cy="72.7" r="12.5"/><text class="tp" x="104.9" y="79.4">B</text></g>
<g id="p12-C"><circle class="vis" cx="267.3" cy="72.7" r="12.5"/><text class="t" x="267.3" y="79.4">C</text></g>
<g id="p12-D"><circle class="pr" cx="64.3" cy="123.5" r="12.5"/><text class="tp" x="64.3" y="130.2">D</text></g>
<g id="p12-E"><circle class="pr" cx="145.5" cy="123.5" r="12.5"/><text class="tp" x="145.5" y="130.2">E</text></g>
<g id="p12-F"><circle class="vis" cx="226.7" cy="123.5" r="12.5"/><text class="t" x="226.7" y="130.2">F</text></g>
<g id="p12-G"><circle class="act" cx="307.9" cy="123.5" r="12.5"/><text class="t" x="307.9" y="130.2">G</text></g>
<g id="p12-H"><circle class="pr" cx="44" cy="174" r="12.5"/><text class="tp" x="44" y="180.7">H</text></g>
<g id="p12-I"><circle class="pr" cx="84.6" cy="174" r="12.5"/><text class="tp" x="84.6" y="180.7">I</text></g>
<g id="p12-J"><circle class="pr" cx="125.2" cy="174" r="12.5"/><text class="tp" x="125.2" y="180.7">J</text></g>
<g id="p12-K"><circle class="pr" cx="165.8" cy="174" r="12.5"/><text class="tp" x="165.8" y="180.7">K</text></g>
<g id="p12-L"><circle class="pr" cx="206.4" cy="174" r="12.5"/><text class="tp" x="206.4" y="180.7">L</text></g>
<g id="p12-M"><polygon class="arr" points="214.5,163 231.5,174 214.5,185"/><circle class="act" cx="247" cy="174" r="12.5"/><text class="t" x="247" y="180.7">M</text></g>
<g id="p12-N"><circle class="un" cx="287.6" cy="174" r="12.5"/><text class="t" x="287.6" y="180.7">N</text></g>
<g id="p12-O"><circle class="un" cx="328.2" cy="174" r="12.5"/><text class="t" x="328.2" y="180.7">O</text></g>
</g>
</svg>
